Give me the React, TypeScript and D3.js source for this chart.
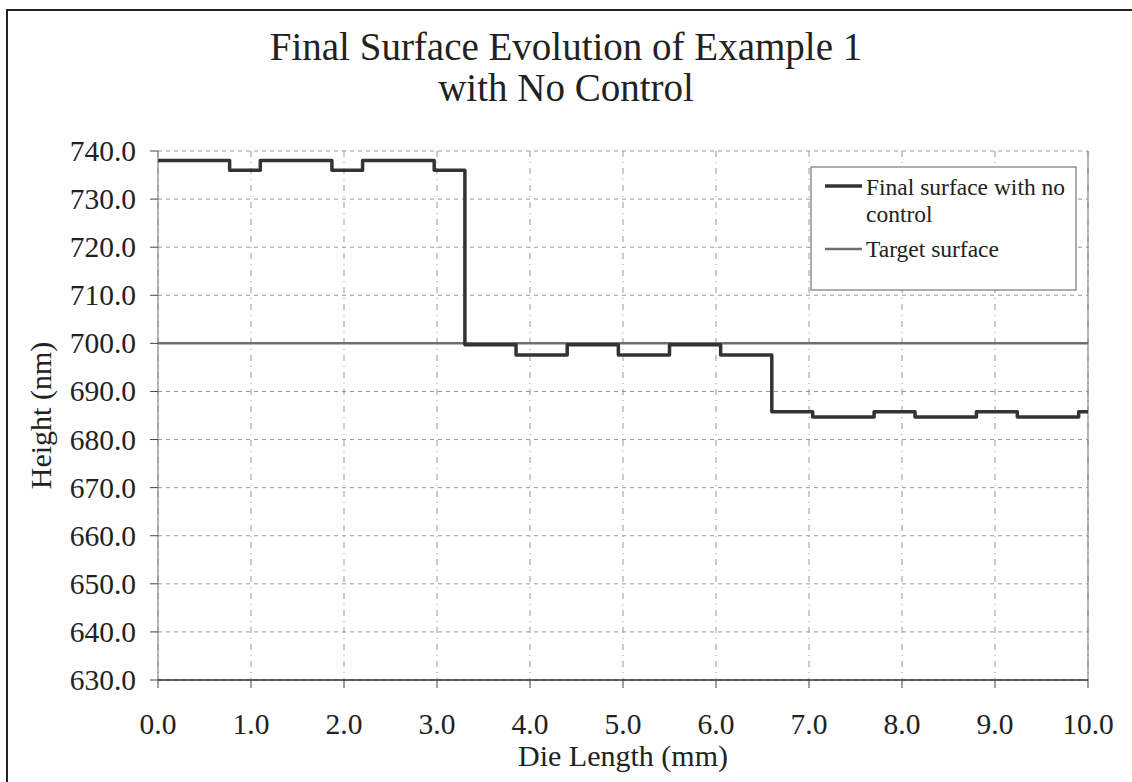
import React from "react";
import * as d3 from "d3";

// Die profile: breakpoints along the die (mm) and the height held from each breakpoint to the next (nm)
const stepX = [0, 0.77, 1.1, 1.87, 2.2, 2.97, 3.3, 3.85, 4.4, 4.95, 5.5, 6.05, 6.6, 7.04, 7.7, 8.14, 8.8, 9.24, 9.9, 10];
const stepHeight = [738, 736, 738, 736, 738, 736, 699.7, 697.6, 699.7, 697.6, 699.7, 697.6, 685.8, 684.7, 685.8, 684.7, 685.8, 684.7, 685.8];
const targetX = [0, 10];
const targetHeight = [700, 700];

const xTicks = [0, 1, 2, 3, 4, 5, 6, 7, 8, 9, 10];
const yTicks = [630, 640, 650, 660, 670, 680, 690, 700, 710, 720, 730, 740];

const W = 1132;
const H = 782;
const FONT = "'Liberation Serif', 'Times New Roman', serif";

export default function App() {
  const x = d3.scaleLinear().domain([0, 10]).range([158, 1088]);
  const y = d3.scaleLinear().domain([630, 740]).range([680, 151]);

  const surfacePts: [number, number][] = stepX.map((v, i) => [v, stepHeight[Math.min(i, stepHeight.length - 1)]]);
  const stepLine = d3
    .line<[number, number]>()
    .x((d) => x(d[0]))
    .y((d) => y(d[1]))
    .curve(d3.curveStepAfter);
  const targetPts: [number, number][] = targetX.map((v, i) => [v, targetHeight[i]]);
  const plainLine = d3
    .line<[number, number]>()
    .x((d) => x(d[0]))
    .y((d) => y(d[1]));

  const [x0, x1] = x.range();
  const [yBottom, yTop] = y.range();

  return (
    <svg width={W} height={H} style={{ position: "absolute", left: 0, top: 0, background: "#fff" }}>
      {/* outer frame */}
      <path d={`M7,${H} L7,10 L${W},10`} fill="none" stroke="#222" strokeWidth={2} />

      {/* title */}
      <text x={566} y={60} textAnchor="middle" fontFamily={FONT} fontSize={39} fill="#222">
        Final Surface Evolution of Example 1
      </text>
      <text x={566} y={101} textAnchor="middle" fontFamily={FONT} fontSize={39} fill="#222">
        with No Control
      </text>

      {/* horizontal grid */}
      {yTicks.map((t) => (
        <line key={`gy${t}`} x1={x0} x2={x1} y1={y(t)} y2={y(t)} stroke="#999" strokeWidth={1} strokeDasharray="4,4" />
      ))}
      {/* vertical grid */}
      {xTicks.map((t) => (
        <line key={`gx${t}`} x1={x(t)} x2={x(t)} y1={yTop} y2={yBottom} stroke="#999" strokeWidth={1} strokeDasharray="6,5,1,5" />
      ))}

      {/* plot border */}
      <line x1={x0} x2={x0} y1={yTop} y2={yBottom} stroke="#888" strokeWidth={1.2} />
      <line x1={x1} x2={x1} y1={yTop} y2={yBottom} stroke="#888" strokeWidth={1.2} />
      <line x1={x0} x2={x1} y1={yBottom} y2={yBottom} stroke="#333" strokeWidth={1.5} />

      {/* y ticks */}
      {yTicks.map((t) => (
        <g key={`ty${t}`}>
          <line x1={x0 - 8} x2={x0} y1={y(t)} y2={y(t)} stroke="#444" strokeWidth={1} />
          <text x={136} y={y(t) + 10} textAnchor="end" fontFamily={FONT} fontSize={29.5} fill="#222">
            {d3.format(".1f")(t)}
          </text>
        </g>
      ))}
      {/* x ticks */}
      {xTicks.map((t) => (
        <g key={`tx${t}`}>
          <line x1={x(t)} x2={x(t)} y1={yBottom} y2={yBottom + 8} stroke="#444" strokeWidth={1} />
          <text x={x(t)} y={734} textAnchor="middle" fontFamily={FONT} fontSize={29.5} fill="#222">
            {d3.format(".1f")(t)}
          </text>
        </g>
      ))}

      {/* axis titles */}
      <text x={623} y={766} textAnchor="middle" fontFamily={FONT} fontSize={30} fill="#222">
        Die Length (mm)
      </text>
      <text
        transform={`translate(51,${(yTop + yBottom) / 2}) rotate(-90)`}
        textAnchor="middle"
        fontFamily={FONT}
        fontSize={30}
        fill="#222"
      >
        Height (nm)
      </text>

      {/* series */}
      <path d={plainLine(targetPts) ?? ""} fill="none" stroke="#6e6e6e" strokeWidth={2.5} />
      <path d={stepLine(surfacePts) ?? ""} fill="none" stroke="#333" strokeWidth={3.5} strokeLinejoin="round" />

      {/* legend */}
      <rect x={811} y={167} width={265} height={123} fill="#fff" stroke="#777" strokeWidth={1.2} />
      <line x1={825} x2={862} y1={186} y2={186} stroke="#333" strokeWidth={3.5} />
      <text x={866} y={195} fontFamily={FONT} fontSize={23.5} fill="#222">
        Final surface with no
      </text>
      <text x={866} y={222} fontFamily={FONT} fontSize={23.5} fill="#222">
        control
      </text>
      <line x1={825} x2={862} y1={249} y2={249} stroke="#6e6e6e" strokeWidth={2.5} />
      <text x={866} y={257} fontFamily={FONT} fontSize={23.5} fill="#222">
        Target surface
      </text>
    </svg>
  );
}
